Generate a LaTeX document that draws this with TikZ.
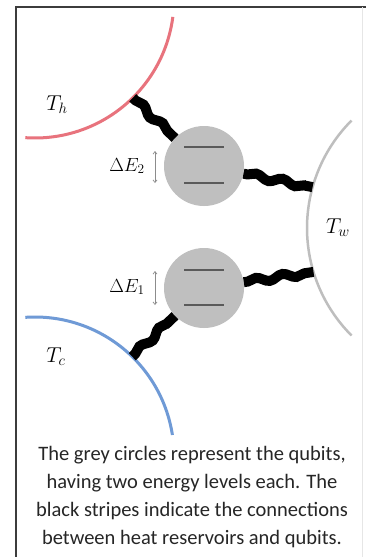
\RequirePackage{fix-cm}
\documentclass[tikz,border=0pt]{standalone}
\usepackage{fontspec}
\newfontfamily\capfont{Carlito}
\usetikzlibrary{decorations.pathmorphing,arrows.meta}
\definecolor{hotc}{HTML}{E8737D}
\definecolor{coldc}{HTML}{6F9AD6}
\definecolor{workc}{HTML}{BEBEBE}
\definecolor{qgray}{HTML}{BFBFBF}
\definecolor{lvl}{HTML}{5A5A5A}
\definecolor{arrgray}{HTML}{8C8C8C}
\definecolor{framedark}{HTML}{3C3C3C}
\definecolor{framelight}{HTML}{E6E6E6}
\definecolor{captxt}{HTML}{262626}
\begin{document}
\begin{tikzpicture}[x=1pt,y=-1pt,
  qubit/.style={circle,fill=qgray,minimum size=80pt,inner sep=0pt},
  stripe/.style={line width=10pt,black,decorate,decoration={snake,amplitude=2.5pt,segment length=27pt,pre length=4pt,post length=4pt}},
  level/.style={line width=1.8pt,lvl},
  gap/.style={draw=arrgray,line width=0.7pt,{Straight Barb[length=2.5pt,width=4pt]}-{Straight Barb[length=2.5pt,width=4pt]}},
  lab/.style={font=\fontsize{19}{22}\selectfont},
  tlab/.style={font=\fontsize{21.5}{24}\selectfont},
  res/.style={line width=3pt}]
\useasboundingbox (0,0) rectangle (366,557);
\fill[white] (0,0) rectangle (366,557);
\draw[framedark,line width=2pt] (16,557) -- (16,7) -- (366,7);
\draw[framelight,line width=1pt] (362,7) -- (362,557);
% reservoirs
\draw[res,hotc] plot[domain=7.4:94,samples=60,smooth] ({35+139*cos(\x)},{-1+139*sin(\x)});
\draw[res,coldc] plot[domain=-94:-8.7,samples=60,smooth] ({35+139*cos(\x)},{456+139*sin(\x)});
\draw[line width=2.5pt,workc] plot[domain=135:225,samples=60,smooth] ({459+152*cos(\x)},{228+152*sin(\x)});
\coordinate (h) at ({35+139*cos(45.3)},{-1+139*sin(45.3)});
\coordinate (c) at ({35+139*cos(-45.6)},{456+139*sin(-45.6)});
\coordinate (w2) at ({459+152*cos(195.6)},{228+152*sin(195.6)});
\coordinate (w1) at ({459+152*cos(163.2)},{228+152*sin(163.2)});
% qubits
\node[qubit] (q2) at (204,166) {};
\node[qubit] (q1) at (204,288) {};
\draw[level] (q2.center) ++(-20,-19) -- ++(40,0);
\draw[level] (q2.center) ++(-20,17) -- ++(40,0);
\draw[level] (q1.center) ++(-20,-18) -- ++(40,0);
\draw[level] (q1.center) ++(-20,17) -- ++(40,0);
% stripes
\draw[stripe] (h) -- (q2);
\draw[stripe] (q2) -- (w2);
\draw[stripe] (q1) -- (w1);
\draw[stripe] (c) -- (q1);
% labels
\node[tlab] (th) at (57,105) {$T_h$};
\node[tlab] (tw) at (338,228) {$T_w$};
\node[tlab] (tc) at (56,357) {$T_c$};
\node[lab] (e2) at (127,166) {$\Delta E_2$};
\node[lab] (e1) at (127,287) {$\Delta E_1$};
\draw[gap] (155,151) -- (155,183);
\draw[gap] (155,271) -- (155,305);
% caption
\node[font=\capfont\fontsize{20.5}{28}\selectfont,align=center,text=captxt] (cap) at (192,497) {The grey circles represent the qubits,\\having two energy levels each. The\\black stripes indicate the connections\\between heat reservoirs and qubits.};
\end{tikzpicture}
\end{document}
